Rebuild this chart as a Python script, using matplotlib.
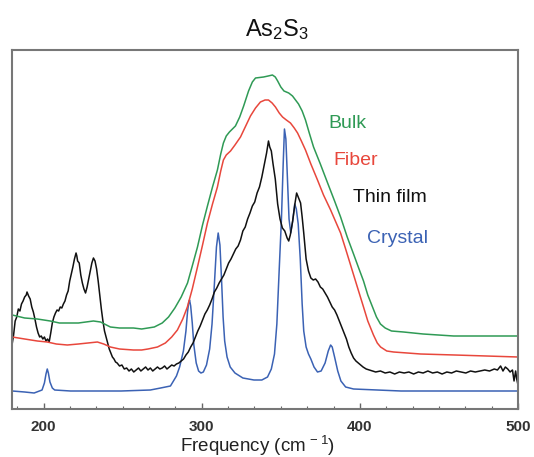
import matplotlib
matplotlib.use("Agg")
import matplotlib.pyplot as plt
from matplotlib.ticker import MultipleLocator, FixedLocator

plt.rcParams['font.family'] = ['Liberation Sans', 'DejaVu Sans']
plt.rcParams['mathtext.fontset'] = 'custom'
plt.rcParams['mathtext.rm'] = 'Liberation Sans'
plt.rcParams['mathtext.default'] = 'regular'

# ---- data (frequency in cm^-1, intensity in arbitrary units) ----
crystal_f = [180.2, 188, 194, 199, 200.5, 201.5, 202.3, 203, 204, 205.5, 207, 217, 249,
             267.5, 274, 280.2, 284, 286, 288.4, 290, 291, 291.8, 292.3, 293, 294, 295,
             296.5, 298, 299.5, 301, 303, 305, 306.5, 308, 309.3, 310.4, 311.5, 312.5,
             313.5, 314.5, 316, 318, 321, 326, 333, 338, 341.6, 344, 346, 347.5, 349,
             350.4, 351.5, 352.3, 353.2, 354.2, 355.2, 356.3, 357.5, 358.8, 359.8, 361,
             362.3, 363.5, 364.5, 366, 367.5, 369, 371, 373.2, 375.5, 378, 380, 381.5,
             382.5, 384, 386, 388, 391, 396, 426, 450, 500]
crystal_y = [18, 17, 16, 19, 26, 35, 40, 36, 27, 21, 19, 18, 18,
             19, 21, 23, 33, 42, 58, 78, 97, 107, 109, 103, 86, 64,
             46, 38, 36, 37, 44, 60, 85, 125, 162, 176, 164, 130,
             92, 68, 52, 42, 36, 31, 29, 29, 32, 40, 55, 85, 140,
             190, 245, 280, 270, 230, 190, 176, 188, 205, 200, 185,
             150, 105, 78, 62, 55, 50, 42, 37, 38, 46, 58, 64,
             62, 52, 38, 28, 22, 20, 18, 18, 18]

film_f = [180.2, 181, 182, 183, 184, 185, 186, 187, 188, 189, 189.5, 190.5, 191.5, 192.5,
          193.5, 194.5, 195.5, 196.5, 197.5, 198.5, 199.5, 200.5, 201.5, 202.5, 203.5,
          204.5, 205.5, 206.5, 207.5, 208.5, 209.5, 210.5, 211.5, 212.5, 213.5, 214.5,
          215.5, 216.5, 217.5, 218.5, 219.5, 220.5, 221, 221.5, 222.5, 223.5, 224.5,
          225.5, 226.5, 227.5, 228.5, 229.5, 230.5, 231.5, 232.5, 233.5, 234.5, 235.5,
          236.5, 237.5, 238.5, 239.5, 240.5, 241.5, 242.5, 243.5, 244.5, 245.5, 246.5,
          248, 249.5, 251, 252.5, 254, 255.5, 257, 258.5, 260, 261.5, 263, 264.5, 266,
          267.5, 269, 270.5, 272, 273.5, 275, 276.5, 278, 279.5, 281, 282.5, 284, 285.5,
          287, 288.5, 290, 291.5, 293, 294.5, 296, 297.5, 299, 300.5, 302, 303.5, 305,
          306.5, 308, 309.5, 311, 312.5, 314, 315.5, 317, 318.5, 320, 321.5, 323, 324.5,
          326, 327.5, 329, 330.5, 332, 333.5, 335, 336.5, 338, 339.5, 341, 342.2, 343,
          344, 345, 346.5, 348, 349.5, 351, 352.5, 354, 355, 356, 357.5, 359, 360, 361,
          362.5, 363.5, 364.5, 366, 367.5, 369, 370.5, 372, 373.5, 375, 376.5, 378,
          379.5, 381, 382.5, 384, 385.5, 387, 388.5, 390, 391.5, 393, 394.5, 396, 397.5,
          399, 400.5, 402, 404, 406, 408, 410, 413, 416, 419, 422, 425, 428, 431, 434,
          437, 440, 443, 446, 449, 452, 455, 458, 461, 464, 467, 470, 473, 476, 479,
          482, 485, 487, 489, 490.5, 492, 493.5, 495, 496.5, 497.5, 498.5, 499.2, 500]
film_y = [66, 74, 88, 92, 100, 98, 105, 108, 112, 114, 117, 113, 110, 102,
          97, 90, 82, 76, 72, 73, 70, 72, 68, 70, 67,
          76, 86, 92, 96, 99, 98, 102, 101, 105, 108, 114,
          118, 128, 135, 142, 150, 156, 153, 148, 146, 134, 126,
          120, 116, 122, 130, 138, 146, 151, 148, 140, 128, 114,
          100, 88, 78, 72, 66, 60, 56, 52, 50, 47, 46,
          43, 44, 40, 41, 38, 40, 37, 39, 41, 38, 40, 42, 39,
          41, 38, 40, 42, 40, 41, 43, 40, 42, 44, 43, 45, 46,
          48, 50, 54, 57, 62, 66, 72, 78, 83, 89, 95, 99, 104,
          110, 117, 121, 126, 130, 134, 140, 146, 150, 155, 160, 163, 169,
          178, 182, 190, 196, 203, 207, 216, 222, 232, 244, 256, 268, 262,
          258, 246, 230, 205, 190, 181, 178, 171, 168, 174, 188, 206, 216, 212,
          206, 192, 176, 150, 138, 131, 129, 130, 127, 122, 120, 116,
          112, 107, 102, 99, 94, 88, 82, 76, 70, 62, 56, 51, 48,
          46, 44, 42, 40, 39, 38, 37, 38, 36, 37, 35, 37, 36, 37, 35,
          37, 36, 38, 36, 37, 35, 37, 36, 38, 37, 36, 38, 37, 38, 39,
          38, 40, 39, 43, 38, 42, 40, 37, 39, 28, 38, 30, 24]

fiber_f = [180.2, 188, 196, 202.3, 208, 215, 222, 228, 234, 238, 242.2, 248, 256.8, 262,
           266, 272, 277, 281, 284.6, 288, 290.9, 294, 297.3, 300.5, 303.6, 306.8, 309.9,
           312, 313.7, 315.5, 318.2, 321, 324.5, 327.5, 330.8, 334, 337.1, 340, 342.2,
           344.5, 346.6, 349, 351.1, 353.5, 356.1, 358.5, 360.6, 363, 365.6, 369, 373.2,
           377, 381.5, 384.5, 387.8, 391, 394.5, 398, 402.3, 405, 408.6, 411, 413.1, 417,
           421.3, 430, 438.4, 460, 480, 500]
fiber_y = [72, 70, 68, 67, 65, 64, 65, 66, 67, 65, 62, 60, 59, 59,
           60, 62, 66, 72, 79, 90, 102, 120, 142, 164, 186, 205, 222,
           238, 249, 254, 258, 264, 272, 282, 293, 301, 307, 309, 309,
           306, 302, 296, 292, 289, 286, 281, 276, 268, 259, 245, 229,
           214, 199, 188, 176, 160, 142, 124, 102, 88, 74, 66, 62, 58,
           57, 56, 55, 54, 53, 52]

bulk_f = [180.2, 188, 196, 204.2, 210, 215, 222, 231.5, 236, 242.2, 248, 256.8, 262,
          270, 275, 279, 283, 287, 291, 294, 297.3, 300.5, 303.6, 306.8, 309.9, 312,
          313.7, 315.5, 317.5, 321.3, 324, 326.5, 329.6, 332, 334, 339.1, 342, 344.7,
          346.5, 348, 350, 352, 355, 357.4, 361.2, 363.5, 365.6, 368, 370.7, 375, 379.6,
          384, 387.8, 392, 396, 399, 402.3, 405, 408, 410.5, 413, 416, 420, 427.6, 440,
          459.3, 480, 500]
bulk_y = [94, 91, 90, 88, 86, 86, 86, 88, 87, 82, 81, 81, 80,
          82, 86, 92, 101, 112, 126, 143, 162, 184, 203, 222, 239, 255,
          266, 273, 277, 283, 292, 303, 318, 327, 331, 332, 333, 334,
          332, 328, 322, 318, 316, 313, 305, 298, 289, 276, 262, 245, 226,
          208, 192, 172, 155, 142, 128, 114, 102, 92, 85, 81, 78, 77, 75,
          73, 73, 73]

series_names = ['Bulk', 'Fiber', 'Thin film', 'Crystal']
colors = {'Bulk': '#2f9a55', 'Fiber': '#e8473c', 'Thin film': '#111111', 'Crystal': '#3b62b4'}
x_ticks = [200, 300, 400, 500]

# ---- figure ----
fig = plt.figure(figsize=(5.34, 4.57), dpi=100)
W, H = 534, 457
ax = fig.add_axes([12 / W, (H - 409) / H, (518 - 12) / W, (409 - 50) / H])

ax.plot(crystal_f, crystal_y, color=colors['Crystal'], lw=1.1)
ax.plot(film_f, film_y, color=colors['Thin film'], lw=1.1)
ax.plot(fiber_f, fiber_y, color=colors['Fiber'], lw=1.1)
ax.plot(bulk_f, bulk_y, color=colors['Bulk'], lw=1.1)

ax.set_xlim(180, 500)
ax.set_ylim(0, 359)
ax.set_yticks([])
ax.xaxis.set_major_locator(FixedLocator(x_ticks))
ax.xaxis.set_minor_locator(MultipleLocator(100 / 6))
ax.tick_params(axis='x', which='major', direction='in', length=4.5, width=1,
               color='#666666', pad=8, labelsize=11, labelcolor='#333333')
ax.tick_params(axis='x', which='minor', direction='in', length=2.2, width=0.8,
               color='#666666')
for lab in ax.get_xticklabels():
    lab.set_fontweight('bold')
for s in ax.spines.values():
    s.set_color('#777777')
    s.set_linewidth(1.5)

# series labels
label_pos = {'Bulk': (328, 128), 'Fiber': (333, 165), 'Thin film': (353, 202), 'Crystal': (367, 243)}
for name in series_names:
    px, py = label_pos[name]
    ax.text((px - 12) / 506, (409 - py) / 359, name, transform=ax.transAxes,
            color=colors[name], fontsize=14, ha='left', va='baseline')

fig.text(277 / W, (H - 36) / H, r'As$_{2}$S$_{3}$', ha='center', va='baseline',
         fontsize=17, color='#111111')
fig.text(258 / W, (H - 452) / H, r'Frequency (cm$^{\,-1}$)', ha='center', va='baseline',
         fontsize=13.5, color='#222222')

fig.savefig('out.png', dpi=100)
